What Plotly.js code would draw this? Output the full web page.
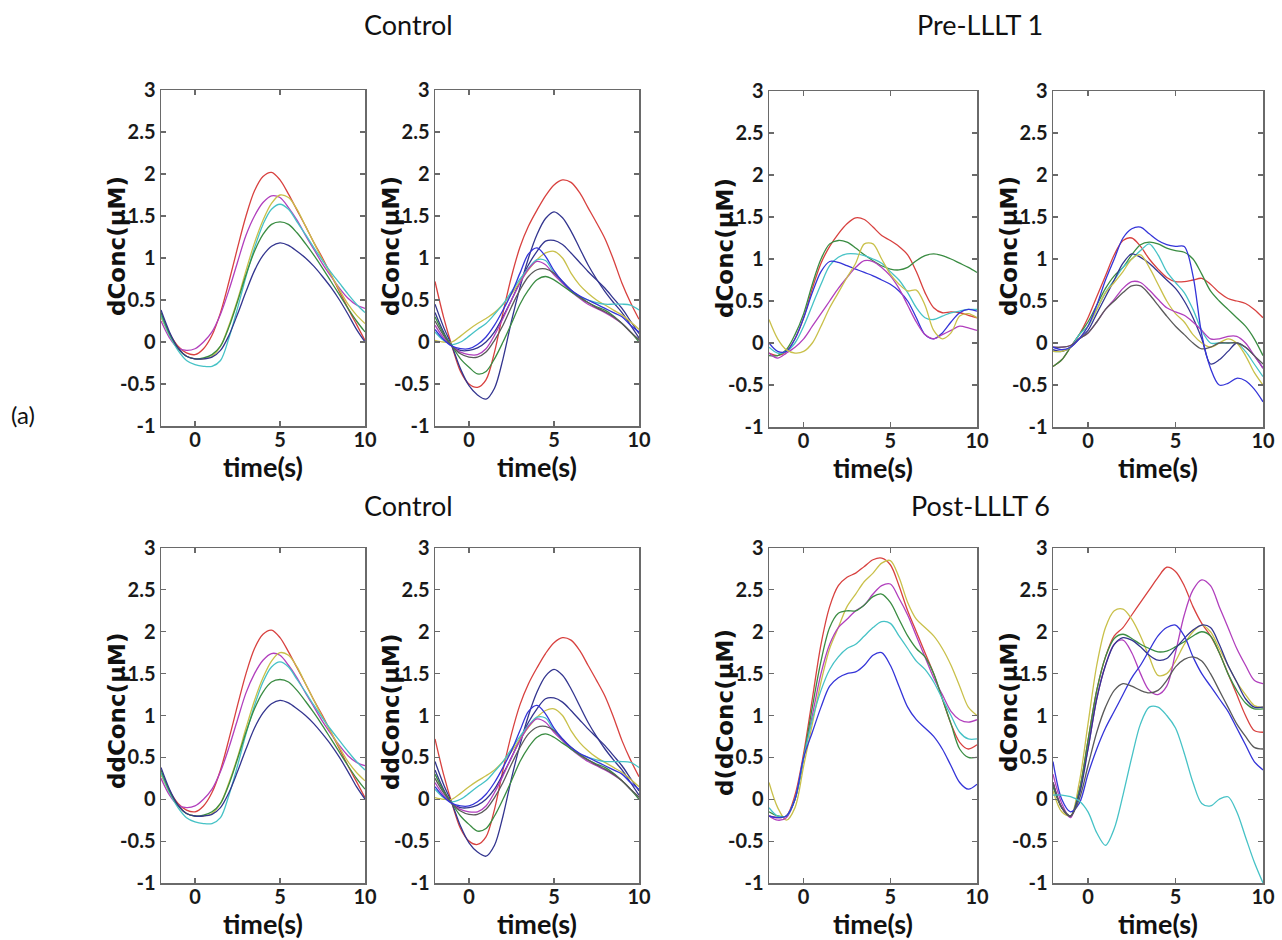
<!DOCTYPE html>
<html><head><meta charset="utf-8">
<script src="https://cdn.plot.ly/plotly-3.0.1.min.js"></script>
<style>html,body{margin:0;padding:0;background:#fff}#chart{width:1282px;height:940px}</style>
</head><body><div id="chart"></div>
<script>
// ---------- DATA ----------
const timeS = [-2,-1.5,-1,-0.5,0,0.5,1,1.5,2,2.5,3,3.5,4,4.5,5,5.5,6,6.5,7,7.5,8,8.5,9,9.5,10];
const xTickVals = [0,5,10];
const xTickText = ['0','5','10'];
const yTickVals = [-1,-0.5,0,0.5,1,1.5,2,2.5,3];
const yTickText = ['-1','-0.5','0','0.5','1','1.5','2','2.5','3'];
const groupTitles = ['Control','Pre-LLLT 1','Control','Post-LLLT 6'];
const panelLabel = '(a)';
const xLabel = 'time(s)';
const yLabels = ['dConc(μM)','dConc(μM)','dConc(μM)','dConc(μM)','ddConc(μM)','ddConc(μM)','d(dConc(μM)','dConc(μM)'];

// Control, left panel
const ctrlA_red     = [0.30,0.10,-0.05,-0.13,-0.15,-0.08,0.08,0.35,0.72,1.12,1.50,1.80,1.97,2.02,1.93,1.76,1.57,1.38,1.18,1.00,0.80,0.60,0.40,0.21,0.02];
const ctrlA_magenta = [0.25,0.05,-0.07,-0.10,-0.08,0.00,0.12,0.33,0.62,0.95,1.27,1.50,1.66,1.74,1.72,1.60,1.45,1.27,1.10,0.93,0.78,0.64,0.52,0.44,0.40];
const ctrlA_yellow  = [0.30,0.08,-0.08,-0.17,-0.20,-0.20,-0.17,-0.05,0.20,0.50,0.85,1.18,1.45,1.65,1.75,1.72,1.58,1.38,1.18,0.98,0.80,0.62,0.45,0.32,0.22];
const ctrlA_cyan    = [0.32,0.08,-0.10,-0.22,-0.27,-0.29,-0.29,-0.22,0.05,0.40,0.78,1.12,1.40,1.58,1.64,1.58,1.43,1.28,1.12,0.97,0.83,0.70,0.57,0.45,0.35];
const ctrlA_green   = [0.35,0.10,-0.07,-0.17,-0.20,-0.19,-0.15,-0.05,0.18,0.48,0.80,1.08,1.28,1.40,1.43,1.40,1.30,1.17,1.03,0.88,0.72,0.56,0.40,0.25,0.12];
const ctrlA_navy    = [0.38,0.12,-0.07,-0.17,-0.20,-0.20,-0.18,-0.10,0.08,0.33,0.60,0.85,1.03,1.14,1.18,1.15,1.08,1.00,0.90,0.78,0.65,0.50,0.33,0.15,0.00];

// Control, right panel
const ctrlB_red     = [0.72,0.30,-0.05,-0.35,-0.50,-0.54,-0.45,-0.12,0.35,0.78,1.13,1.38,1.57,1.74,1.87,1.93,1.90,1.78,1.60,1.42,1.23,0.98,0.70,0.47,0.27];
const ctrlB_navy    = [0.45,0.18,-0.05,-0.32,-0.52,-0.63,-0.68,-0.55,-0.20,0.25,0.65,1.00,1.28,1.47,1.55,1.48,1.32,1.12,0.92,0.75,0.60,0.47,0.35,0.20,0.05];
const ctrlB_navy2   = [0.35,0.12,-0.05,-0.10,-0.10,-0.07,0.00,0.12,0.30,0.50,0.72,0.92,1.08,1.20,1.21,1.16,1.06,0.95,0.84,0.74,0.64,0.52,0.40,0.25,0.10];
const ctrlB_yellow  = [0.02,0.00,0.00,0.07,0.15,0.22,0.28,0.35,0.45,0.57,0.72,0.86,0.98,1.06,1.08,1.00,0.82,0.68,0.58,0.50,0.44,0.38,0.32,0.24,0.15];
const ctrlB_cyan    = [0.12,0.02,-0.03,0.00,0.07,0.15,0.22,0.33,0.45,0.60,0.75,0.88,0.98,0.97,0.82,0.70,0.60,0.54,0.50,0.47,0.45,0.45,0.45,0.44,0.38];
const ctrlB_magenta = [0.20,0.05,-0.05,-0.12,-0.15,-0.15,-0.08,0.08,0.28,0.50,0.70,0.87,0.96,0.92,0.80,0.70,0.60,0.52,0.45,0.40,0.35,0.29,0.22,0.12,0.02];
const ctrlB_green   = [0.30,0.10,-0.05,-0.20,-0.30,-0.38,-0.35,-0.20,0.00,0.22,0.45,0.62,0.74,0.78,0.74,0.67,0.60,0.53,0.47,0.42,0.38,0.31,0.22,0.12,0.00];
const ctrlB_gray    = [0.25,0.08,-0.05,-0.14,-0.18,-0.18,-0.12,0.02,0.20,0.42,0.62,0.78,0.86,0.87,0.82,0.72,0.62,0.54,0.47,0.41,0.36,0.30,0.22,0.12,0.03];
const ctrlB_blue    = [0.15,0.03,-0.05,-0.08,-0.08,-0.03,0.06,0.20,0.38,0.58,0.82,1.05,1.12,1.02,0.85,0.72,0.62,0.55,0.50,0.45,0.40,0.35,0.30,0.20,0.12];

// Pre-LLLT 1, left panel
const pre1A_red     = [-0.12,-0.15,-0.10,0.05,0.30,0.65,0.95,1.15,1.30,1.42,1.49,1.47,1.38,1.28,1.22,1.15,1.05,0.85,0.60,0.42,0.36,0.37,0.36,0.33,0.30];
const pre1A_green   = [-0.15,-0.15,-0.08,0.10,0.35,0.70,1.00,1.18,1.22,1.20,1.13,1.05,0.98,0.92,0.88,0.87,0.90,0.98,1.04,1.06,1.04,1.00,0.95,0.90,0.84];
const pre1A_cyan    = [-0.05,-0.12,-0.10,0.00,0.20,0.45,0.70,0.92,1.02,1.06,1.06,1.04,1.00,0.95,0.85,0.75,0.60,0.42,0.30,0.28,0.32,0.36,0.38,0.40,0.40];
const pre1A_blue    = [0.00,-0.10,-0.10,0.05,0.30,0.60,0.85,0.97,0.96,0.92,0.88,0.84,0.80,0.75,0.70,0.62,0.50,0.30,0.10,0.05,0.12,0.25,0.36,0.40,0.38];
const pre1A_magenta = [-0.12,-0.18,-0.12,-0.05,0.05,0.20,0.35,0.50,0.65,0.78,0.90,0.98,0.97,0.90,0.80,0.65,0.45,0.25,0.10,0.05,0.10,0.15,0.20,0.18,0.15];
const pre1A_yellow  = [0.28,0.05,-0.08,-0.12,-0.10,0.00,0.20,0.42,0.60,0.78,0.95,1.18,1.18,1.00,0.82,0.70,0.62,0.63,0.45,0.15,0.05,0.12,0.32,0.35,0.30];

// Pre-LLLT 1, right panel
const pre1B_blue    = [-0.05,-0.08,-0.05,0.05,0.20,0.45,0.75,1.00,1.25,1.36,1.38,1.30,1.22,1.17,1.15,1.15,0.80,0.10,-0.30,-0.50,-0.48,-0.42,-0.45,-0.55,-0.70];
const pre1B_red     = [-0.28,-0.20,-0.05,0.10,0.30,0.55,0.80,1.05,1.22,1.25,1.15,1.00,0.88,0.78,0.73,0.73,0.75,0.77,0.70,0.60,0.53,0.50,0.47,0.40,0.30];
const pre1B_green   = [-0.28,-0.20,-0.05,0.10,0.25,0.45,0.65,0.80,0.90,1.05,1.17,1.20,1.18,1.13,1.10,1.08,1.00,0.82,0.62,0.50,0.40,0.30,0.20,0.05,-0.15];
const pre1B_cyan    = [-0.10,-0.10,-0.05,0.10,0.20,0.40,0.60,0.75,0.90,1.00,1.10,1.18,1.05,0.85,0.72,0.60,0.40,0.15,0.00,0.00,0.00,0.00,-0.10,-0.25,-0.40];
const pre1B_navy    = [-0.08,-0.10,-0.05,0.05,0.15,0.35,0.55,0.75,0.95,1.06,1.02,0.95,0.85,0.75,0.65,0.50,0.30,0.05,-0.25,-0.20,-0.10,0.00,-0.05,-0.15,-0.30];
const pre1B_yellow  = [-0.10,-0.10,-0.05,0.05,0.20,0.40,0.60,0.72,0.85,1.00,1.05,0.90,0.70,0.50,0.35,0.25,0.10,0.00,-0.05,0.00,0.05,0.00,-0.15,-0.35,-0.50];
const pre1B_magenta = [-0.05,-0.05,-0.03,0.05,0.12,0.25,0.40,0.52,0.65,0.73,0.72,0.63,0.52,0.42,0.37,0.33,0.25,0.15,0.05,0.05,0.08,0.08,0.00,-0.15,-0.30];
const pre1B_gray    = [-0.05,-0.05,-0.03,0.05,0.12,0.25,0.40,0.50,0.60,0.68,0.68,0.58,0.45,0.32,0.20,0.10,0.00,-0.07,-0.05,0.00,0.00,0.00,-0.05,-0.15,-0.25];

// Post-LLLT 6, left panel
const post6A_red     = [-0.20,-0.22,-0.20,0.05,0.55,1.20,1.85,2.30,2.55,2.65,2.70,2.78,2.86,2.88,2.80,2.55,2.25,2.00,1.75,1.50,1.20,0.90,0.68,0.60,0.65];
const post6A_yellow  = [0.20,-0.10,-0.25,-0.10,0.40,0.90,1.40,1.80,2.05,2.30,2.45,2.60,2.70,2.82,2.85,2.65,2.35,2.15,2.05,1.95,1.80,1.60,1.35,1.10,1.00];
const post6A_magenta = [-0.20,-0.25,-0.22,0.00,0.50,1.00,1.50,1.85,2.05,2.15,2.25,2.32,2.45,2.55,2.57,2.40,2.20,1.95,1.70,1.45,1.25,1.05,0.95,0.92,0.95];
const post6A_green   = [-0.15,-0.20,-0.20,0.00,0.50,1.10,1.65,2.05,2.22,2.25,2.25,2.32,2.42,2.45,2.35,2.15,1.95,1.80,1.70,1.50,1.20,0.90,0.60,0.50,0.50];
const post6A_cyan    = [-0.10,-0.20,-0.20,0.00,0.50,0.95,1.30,1.55,1.70,1.80,1.85,1.95,2.05,2.12,2.10,1.95,1.80,1.65,1.55,1.40,1.20,1.00,0.80,0.72,0.72];
const post6A_blue    = [-0.20,-0.22,-0.20,0.00,0.50,0.80,1.10,1.35,1.45,1.50,1.52,1.60,1.72,1.75,1.60,1.35,1.10,0.95,0.85,0.75,0.60,0.40,0.20,0.12,0.18];

// Post-LLLT 6, right panel
const post6B_red     = [0.20,-0.10,-0.20,0.10,0.70,1.30,1.70,1.95,2.05,2.20,2.35,2.50,2.65,2.77,2.72,2.55,2.30,2.10,1.95,1.75,1.50,1.25,1.00,0.82,0.80];
const post6B_yellow  = [0.10,-0.15,-0.20,0.20,0.90,1.60,2.05,2.25,2.27,2.15,1.95,1.70,1.48,1.50,1.65,1.85,2.00,2.08,2.00,1.80,1.60,1.40,1.25,1.12,1.10];
const post6B_magenta = [0.30,-0.05,-0.22,0.10,0.60,1.20,1.60,1.85,1.90,1.75,1.50,1.30,1.25,1.35,1.75,2.20,2.50,2.62,2.55,2.30,2.05,1.80,1.60,1.42,1.38];
const post6B_green   = [0.15,-0.10,-0.20,0.10,0.70,1.30,1.70,1.92,1.97,1.92,1.85,1.80,1.76,1.77,1.82,1.88,1.95,2.00,1.95,1.75,1.50,1.30,1.15,1.08,1.08];
const post6B_navy    = [0.20,-0.10,-0.20,0.05,0.60,1.20,1.60,1.85,1.93,1.90,1.82,1.72,1.66,1.68,1.80,1.92,2.02,2.08,2.05,1.85,1.60,1.40,1.20,1.10,1.10];
const post6B_blue    = [0.45,0.00,-0.15,-0.05,0.30,0.60,0.85,1.05,1.25,1.45,1.60,1.78,1.95,2.05,2.08,1.95,1.70,1.50,1.35,1.20,1.05,0.85,0.65,0.45,0.35];
const post6B_gray    = [0.20,-0.10,-0.20,0.00,0.40,0.80,1.10,1.30,1.38,1.35,1.30,1.27,1.30,1.42,1.58,1.67,1.70,1.65,1.50,1.30,1.10,0.90,0.75,0.62,0.60];
const post6B_cyan    = [0.05,0.05,0.03,-0.02,-0.15,-0.40,-0.55,-0.35,0.05,0.50,0.90,1.10,1.10,1.00,0.85,0.55,0.20,-0.05,-0.08,0.00,0.03,-0.15,-0.45,-0.75,-1.00];

// ---------- STYLE ----------
const palette = {
  red:'#d8413f', magenta:'#b13fbd', yellow:'#c9c04a', cyan:'#46c2c6', green:'#3a8c42',
  navy:'#33358f', blue:'#3434d8', gray:'#5a5a5a'
};
const panels = [
  [['red',ctrlA_red],['magenta',ctrlA_magenta],['yellow',ctrlA_yellow],['cyan',ctrlA_cyan],['green',ctrlA_green],['navy',ctrlA_navy]],
  [['red',ctrlB_red],['navy',ctrlB_navy],['navy',ctrlB_navy2],['yellow',ctrlB_yellow],['cyan',ctrlB_cyan],['magenta',ctrlB_magenta],['green',ctrlB_green],['gray',ctrlB_gray],['blue',ctrlB_blue]],
  [['red',pre1A_red],['green',pre1A_green],['cyan',pre1A_cyan],['blue',pre1A_blue],['magenta',pre1A_magenta],['yellow',pre1A_yellow]],
  [['red',pre1B_red],['green',pre1B_green],['cyan',pre1B_cyan],['navy',pre1B_navy],['yellow',pre1B_yellow],['magenta',pre1B_magenta],['gray',pre1B_gray],['blue',pre1B_blue]],
  [['red',ctrlA_red],['magenta',ctrlA_magenta],['yellow',ctrlA_yellow],['cyan',ctrlA_cyan],['green',ctrlA_green],['navy',ctrlA_navy]],
  [['red',ctrlB_red],['navy',ctrlB_navy],['navy',ctrlB_navy2],['yellow',ctrlB_yellow],['cyan',ctrlB_cyan],['magenta',ctrlB_magenta],['green',ctrlB_green],['gray',ctrlB_gray],['blue',ctrlB_blue]],
  [['red',post6A_red],['yellow',post6A_yellow],['magenta',post6A_magenta],['green',post6A_green],['cyan',post6A_cyan],['blue',post6A_blue]],
  [['red',post6B_red],['yellow',post6B_yellow],['magenta',post6B_magenta],['green',post6B_green],['navy',post6B_navy],['blue',post6B_blue],['gray',post6B_gray],['cyan',post6B_cyan]]
];

const W = 1282, H = 940;
const boxes = [[161,90,365,426],[435,90,639,426],[769,91,977,427],[1053,91,1263,427],
               [161,548,365,883],[435,548,639,883],[769,548,977,883],[1053,548,1263,883]];
const yLabelCenters = [246,246,248,246,711,712,713,702];
const titlePos = [[408,25],[980,25],[408,505],[980,505]];
const px = v => v / W, py = v => 1 - v / H;

const tickFont = {family:'Lato, "DejaVu Sans", sans-serif', size:20, weight:700, color:'#1a1a1a'};
const traces = [];
const layout = {
  width:W, height:H, margin:{l:0,r:0,t:0,b:0},
  paper_bgcolor:'#fff', plot_bgcolor:'#fff', showlegend:false, annotations:[]
};

panels.forEach((series, i) => {
  const s = i === 0 ? '' : String(i + 1);
  const b = boxes[i];
  series.forEach(([c, arr]) => {
    traces.push({
      x: timeS, y: arr, xaxis:'x'+s, yaxis:'y'+s, type:'scatter', mode:'lines',
      line:{color:palette[c], width:1.3, shape:'spline', smoothing:0.9},
      hoverinfo:'skip', showlegend:false
    });
  });
  const common = {
    showline:true, linecolor:'#6a6a6a', linewidth:1.5, mirror:'ticks',
    ticks:'inside', ticklen:5, tickwidth:1.2, tickcolor:'#6a6a6a',
    showgrid:false, zeroline:false, tickfont:tickFont, fixedrange:true
  };
  layout['xaxis'+s] = Object.assign({}, common, {
    domain:[px(b[0]), px(b[2])], range:[-2,10], anchor:'y'+s,
    tickmode:'array', tickvals:xTickVals, ticktext:xTickText, ticklabelstandoff:-5
  });
  layout['yaxis'+s] = Object.assign({}, common, {
    domain:[py(b[3]), py(b[1])], range:[-1,3], anchor:'x'+s,
    tickmode:'array', tickvals:yTickVals, ticktext:yTickText
  });
  layout.annotations.push({
    xref:'paper', yref:'paper', x:px(b[0]-44), y:py(yLabelCenters[i]),
    xanchor:'center', yanchor:'middle', textangle:-90, showarrow:false,
    text:yLabels[i], font:{family:'"DejaVu Sans", sans-serif', size:23, weight:700, color:'#111'}
  });
  layout.annotations.push({
    xref:'paper', yref:'paper', x:px((b[0]+b[2])/2), y:py(b[3]+40),
    xanchor:'center', yanchor:'middle', showarrow:false,
    text:xLabel, font:{family:'Lato, sans-serif', size:27, weight:700, color:'#111'}
  });
});

groupTitles.forEach((t, k) => {
  layout.annotations.push({
    xref:'paper', yref:'paper', x:px(titlePos[k][0]), y:py(titlePos[k][1]),
    xanchor:'center', yanchor:'middle', showarrow:false, text:t,
    font:{family:'Lato, sans-serif', size:27, color:'#111'}
  });
});
layout.annotations.push({
  xref:'paper', yref:'paper', x:px(23), y:py(414), xanchor:'center', yanchor:'middle',
  showarrow:false, text:panelLabel, font:{family:'Lato, sans-serif', size:24, color:'#111'}
});

Plotly.newPlot('chart', traces, layout, {staticPlot:true, displayModeBar:false});
</script>
</body></html>
